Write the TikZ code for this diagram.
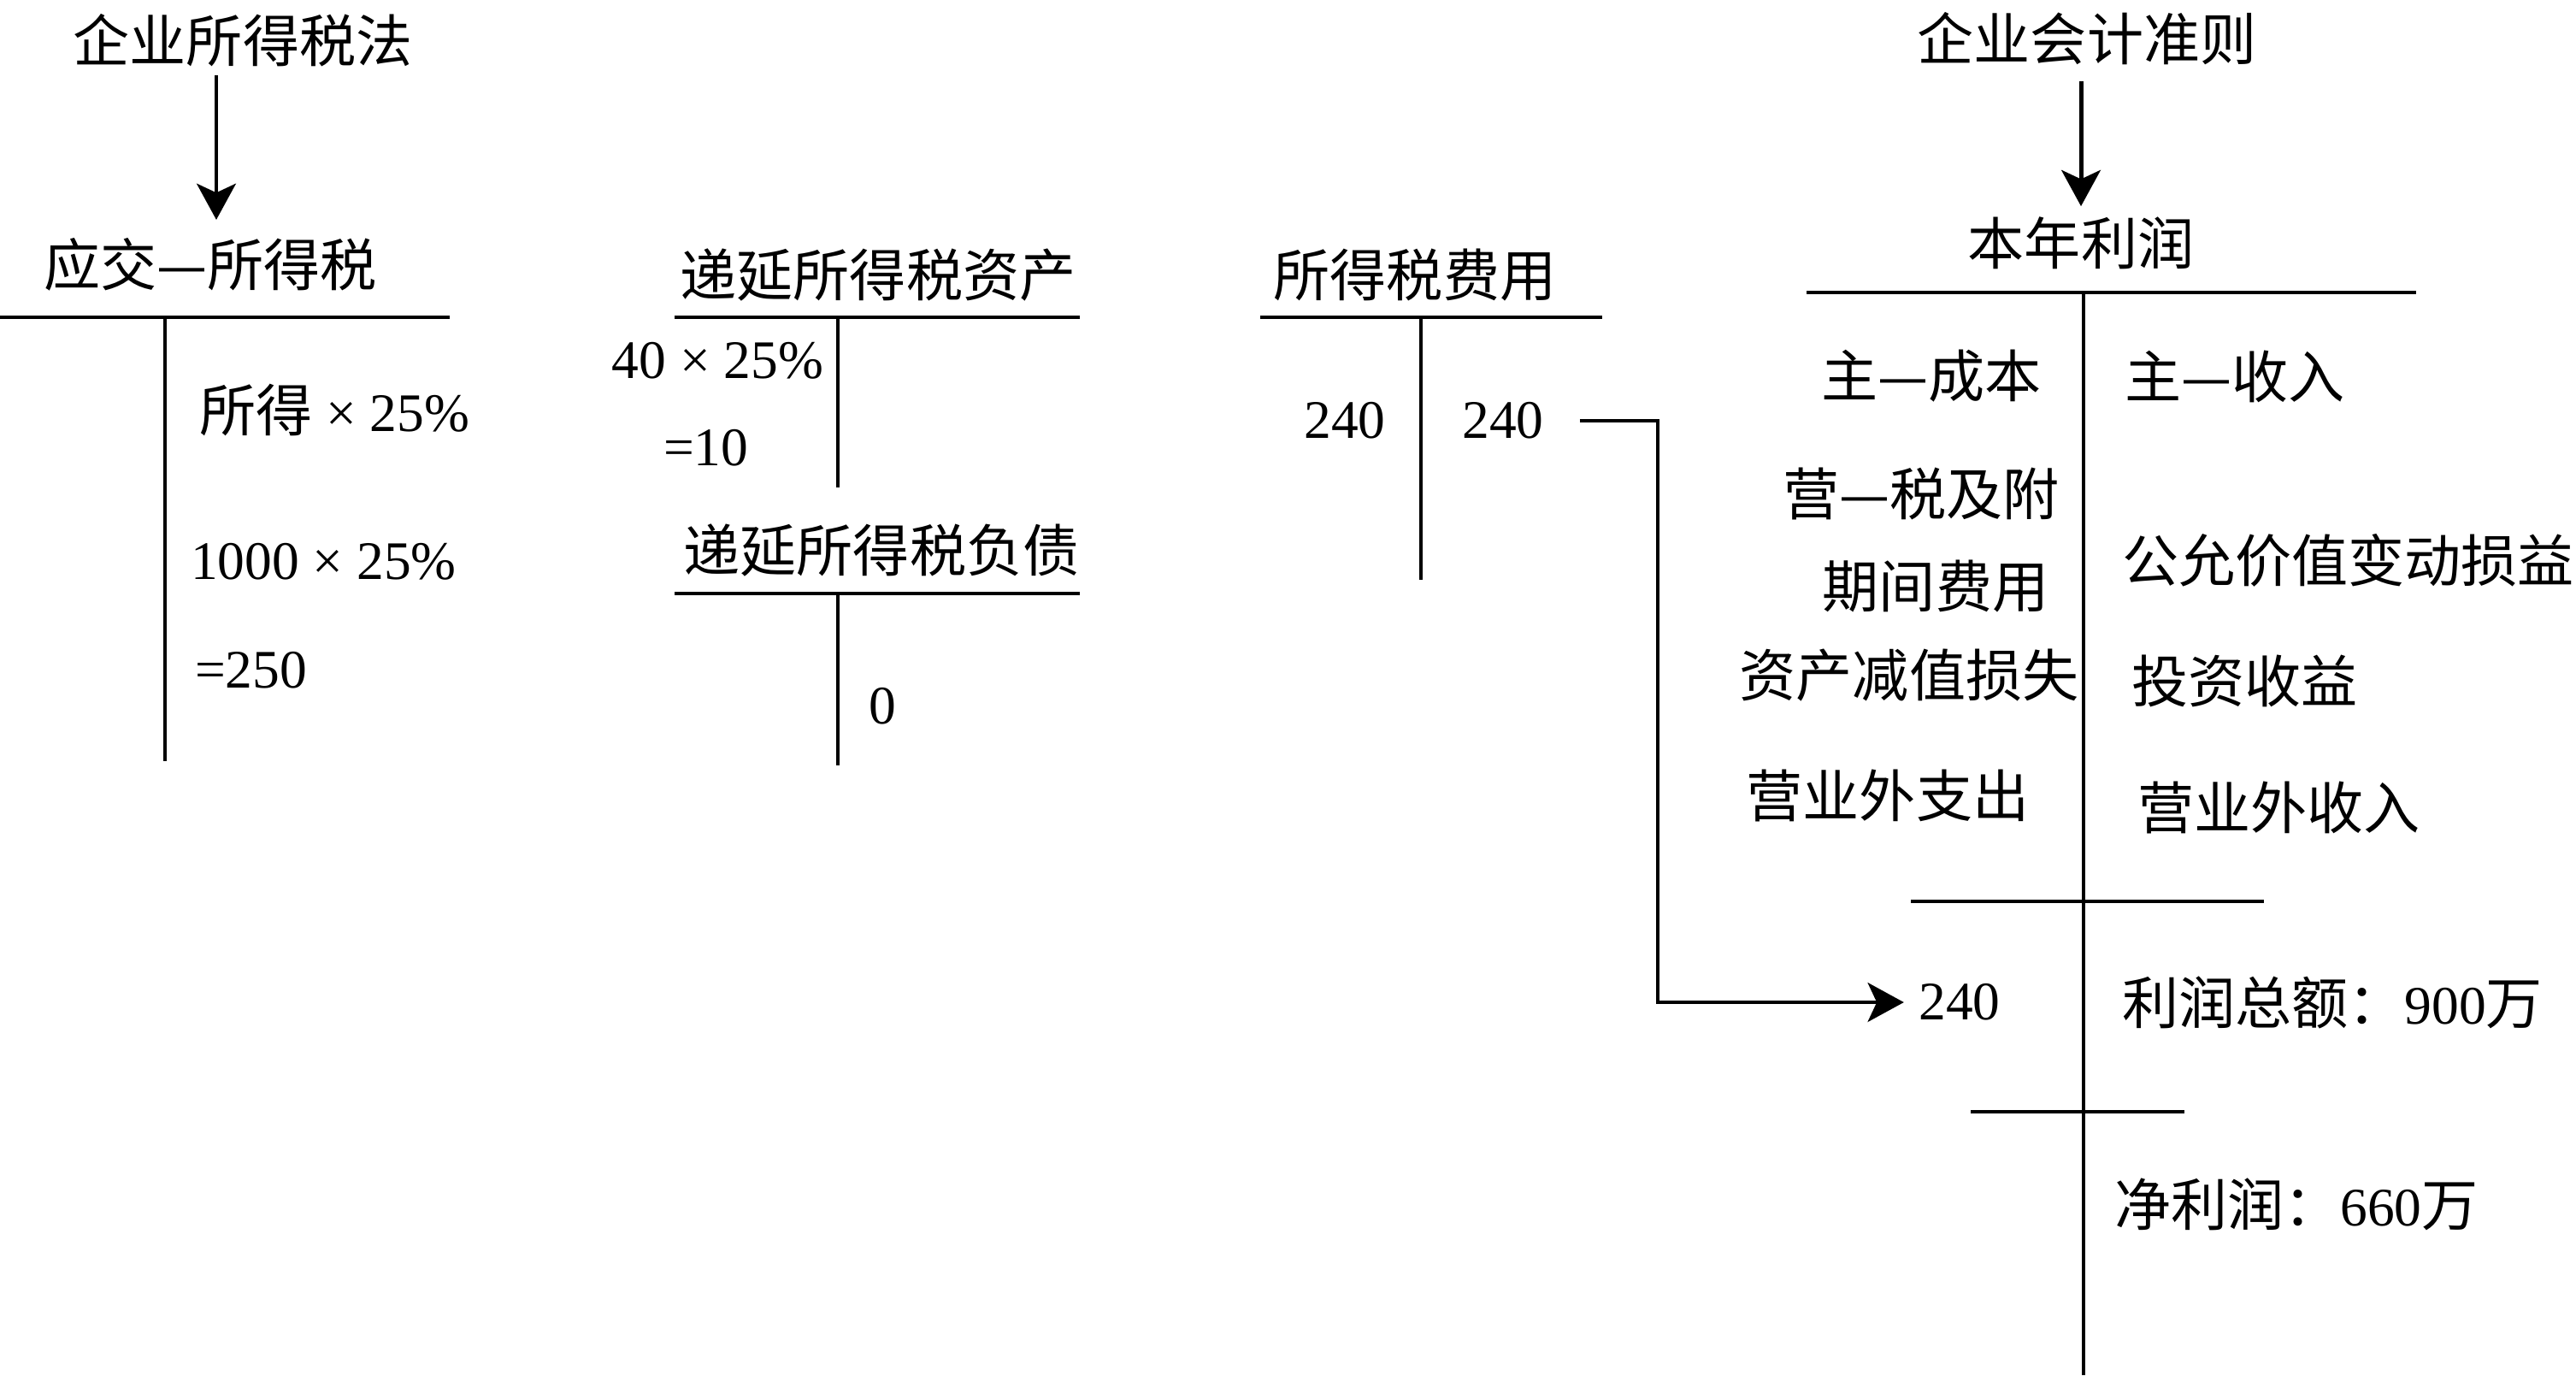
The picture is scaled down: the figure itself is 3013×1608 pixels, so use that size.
\documentclass[tikz,border=0pt]{standalone}
\usepackage{fontspec}
\setmainfont{Liberation Serif}[Scale=0.96]
\newfontfamily\cjk{Noto Sans CJK SC}
\usetikzlibrary{arrows.meta}
\begin{document}
\begin{tikzpicture}[x=0.01cm,y=-0.01cm,
  txt/.style={inner sep=0pt, outer sep=0pt, font=\fontsize{18.8}{22}\selectfont},
  cj/.style={inner sep=0pt, outer sep=0pt, font=\fontsize{18.8}{22}\selectfont\cjk},
  tline/.style={line width=1.4pt},
  tthin/.style={line width=1.2pt},
  arr/.style={line width=1.4pt, -{Stealth[length=12pt,width=13pt,inset=3pt]}}]
\useasboundingbox (0,0) rectangle (3013,1608);

% titles
\node[cj] (law) at (284,47) {企业所得税法};
\node[cj] (std) at (2441,45) {企业会计准则};

% 应交—所得税
\node[cj] (yjs) at (246,309) {应交—所得税};
\draw[tline] (0,371) -- (526,371);
\draw[tline] (193,371) -- (193,890);
\node[txt, anchor=west] (yjs1) at (233,479) {{\cjk 所得} × 25\%};
\node[txt, anchor=west] (yjs2) at (223,657) {1000 × 25\%};
\node[txt, anchor=west] (yjs3) at (228,784) {=250};

% 递延所得税资产
\node[cj] (dta) at (1027,321) {递延所得税资产};
\draw[tline] (789,371) -- (1263,371);
\draw[tline] (980,371) -- (980,570);
\node[txt, anchor=east] (dta1) at (963,422) {40 × 25\%};
\node[txt, anchor=west] (dta2) at (776,524) {=10};

% 递延所得税负债
\node[cj] (dtl) at (1031,643) {递延所得税负债};
\draw[tline] (789,694) -- (1263,694);
\draw[tline] (980,694) -- (980,895);
\node[txt] (dtl1) at (1032,826) {0};

% 所得税费用
\node[cj] (ite) at (1655,322) {所得税费用};
\draw[tline] (1474,371) -- (1874,371);
\draw[tline] (1662,371) -- (1662,678);
\node[txt] (ite1) at (1573,492) {240};
\node[txt] (ite2) at (1758,492) {240};

% 本年利润
\node[cj] (pl) at (2434,284) {本年利润};
\draw[tthin] (2113,342) -- (2826,342);
\draw[tthin] (2437,342) -- (2437,1608);
\draw[tthin] (2235,1054) -- (2648,1054);
\draw[tthin] (2305,1300) -- (2555,1300);

\node[cj] (l1) at (2259,440) {主—成本};
\node[cj] (l2) at (2247,577) {营—税及附};
\node[cj] (l3) at (2264,686) {期间费用};
\node[cj] (l4) at (2233,790) {资产减值损失};
\node[cj] (l5) at (2208,930) {营业外支出};

\node[cj, anchor=west] (r1) at (2485,440) {主—收入};
\node[cj, anchor=west] (r2) at (2482,655) {公允价值变动损益};
\node[cj, anchor=west] (r3) at (2493,796) {投资收益};
\node[cj, anchor=west] (r4) at (2500,944) {营业外收入};

\node[txt] (pl240) at (2292,1172) {240};
\node[txt, anchor=west] (tot) at (2482,1172) {{\cjk 利润总额：}900{\cjk 万}};
\node[txt, anchor=west] (net) at (2473,1408) {{\cjk 净利润：}660{\cjk 万}};

% arrows
\coordinate (a1) at (253,0);
\coordinate (a2) at (2434,0);
\coordinate (bend) at (1939,0);
\draw[arr, shorten <=3pt, shorten >=6pt] (law.south -| a1) -- (yjs.north -| a1);
\draw[arr, shorten <=5.5pt, shorten >=3.5pt] (std.south -| a2) -- (pl.north -| a2);
\draw[arr, shorten <=12pt, shorten >=5pt] (ite2.east) -- (ite2.east -| bend) |- (pl240.west);
\end{tikzpicture}
\end{document}
